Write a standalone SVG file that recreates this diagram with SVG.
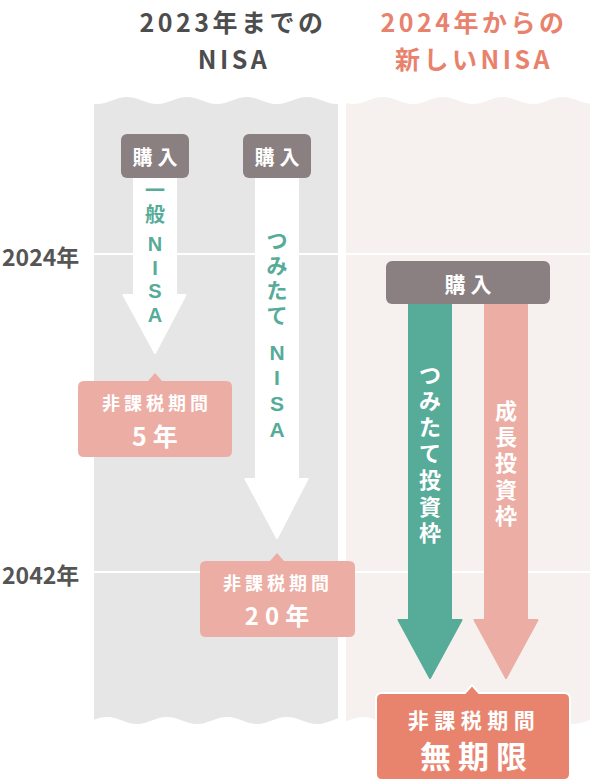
<svg xmlns="http://www.w3.org/2000/svg" width="600" height="784" viewBox="0 0 600 784">
<style>
text{font-family:"Noto Sans CJK JP","Noto Sans",sans-serif;font-weight:700}
.hdL{fill:#4D4D4D;font-size:25px;letter-spacing:3.5px;text-anchor:middle}
.hdR{fill:#E8826D;font-size:25px;letter-spacing:3.5px;text-anchor:middle}
.yr{fill:#555555;font-size:23px;dominant-baseline:central}
.grid{stroke:#FFFFFF;stroke-width:2}
.buy{fill:#8A8082}
.buyT{fill:#FFFFFF;font-size:20px;letter-spacing:5px;text-anchor:middle;dominant-baseline:central}
.wArrow{fill:#FFFFFF;stroke:#FFFFFF;stroke-width:2;stroke-linejoin:round}
.gArrow{fill:#56AB99;stroke:#56AB99;stroke-width:2;stroke-linejoin:round}
.pArrow{fill:#ECADA4;stroke:#ECADA4;stroke-width:2;stroke-linejoin:round}
.vG{font-family:"Liberation Sans","Noto Sans CJK JP",sans-serif;fill:#56AB99;font-size:20px;text-anchor:middle;dominant-baseline:central}
.vW{font-family:"Liberation Sans","Noto Sans CJK JP",sans-serif;fill:#FFFFFF;font-size:22px;text-anchor:middle;dominant-baseline:central}
.lblP{fill:#ECADA4}
.lblO{fill:#E8846E;stroke:#FFFFFF;stroke-width:2}
.lbl1{fill:#FFFFFF;font-size:18px;letter-spacing:4px;text-anchor:middle;dominant-baseline:central}
.lbl2{fill:#FFFFFF;font-size:24px;letter-spacing:6px;text-anchor:middle;dominant-baseline:central}
</style>
<defs>
<clipPath id="clipL"><rect x="94" y="0" width="244" height="784"/></clipPath>
<clipPath id="clipR"><rect x="346" y="0" width="244" height="784"/></clipPath>
<path id="wave" d="M37,104 C48,104 56,97 67,97 C78,97 86,104 97,104 C108,104 116,97 127,97 C138,97 146,104 157,104 C168,104 176,97 187,97 C198,97 206,104 217,104 C228,104 236,97 247,97 C258,97 266,104 277,104 C288,104 296,97 307,97 C318,97 326,104 337,104 C348,104 356,97 367,97 L377,724 C366,724 358,717 347,717 C336,717 328,724 317,724 C306,724 298,717 287,717 C276,717 268,724 257,724 C246,724 238,717 227,717 C216,717 208,724 197,724 C186,724 178,717 167,717 C156,717 148,724 137,724 C126,724 118,717 107,717 C96,717 88,724 77,724 L37,724 Z"/>
</defs>
<rect x="0" y="0" width="600" height="784" fill="#FFFFFF"/>

<g id="panels">
<g clip-path="url(#clipL)"><use href="#wave" fill="#E6E6E6"/></g>
<g clip-path="url(#clipR)"><use href="#wave" transform="translate(256,0)" fill="#F6F1EF"/></g>
</g>

<g id="headers">
<text class="hdL"><tspan x="233" y="32">2023年までの</tspan><tspan x="234" y="69">NISA</tspan></text>
<text class="hdR"><tspan x="474" y="32">2024年からの</tspan><tspan x="474" y="69">新しいNISA</tspan></text>
</g>

<g id="axis">
<line class="grid" x1="94" y1="254" x2="590" y2="254"/>
<line class="grid" x1="94" y1="572" x2="590" y2="572"/>
<text class="yr" x="2" y="256">2024年</text>
<text class="yr" x="2" y="574">2042年</text>
</g>

<g id="connectors">
<g id="arrow-ippan">
<rect x="133" y="177" width="44" height="119" fill="#FFFFFF"/>
<polygon class="wArrow" points="123.5,295 185.5,295 155,353"/>
<text class="vG"><tspan x="155" y="191">一</tspan><tspan x="155" y="215">般</tspan><tspan x="155" y="244">N</tspan><tspan x="155" y="268">I</tspan><tspan x="155" y="291">S</tspan><tspan x="155" y="315">A</tspan></text>
</g>
<g id="arrow-tsumitate">
<rect x="255" y="177" width="44" height="303" fill="#FFFFFF"/>
<polygon class="wArrow" points="245.5,479 307.5,479 277,538"/>
<text class="vG" style="font-size:21px"><tspan x="277" y="240">つ</tspan><tspan x="277" y="265">み</tspan><tspan x="277" y="290">た</tspan><tspan x="277" y="315">て</tspan><tspan x="277" y="352">N</tspan><tspan x="277" y="377">I</tspan><tspan x="277" y="403">S</tspan><tspan x="277" y="429">A</tspan></text>
</g>
<g id="arrow-tsumitate-waku">
<rect x="408" y="303" width="44" height="318" fill="#56AB99"/>
<polygon class="gArrow" points="398.5,620 461.5,620 430,678"/>
<text class="vW"><tspan x="430" y="375">つ</tspan><tspan x="430" y="401">み</tspan><tspan x="430" y="427">た</tspan><tspan x="430" y="453">て</tspan><tspan x="430" y="480">投</tspan><tspan x="430" y="507">資</tspan><tspan x="430" y="533">枠</tspan></text>
</g>
<g id="arrow-seicho-waku">
<rect x="484" y="303" width="44" height="318" fill="#ECADA4"/>
<polygon class="pArrow" points="474.5,620 537.5,620 506,678"/>
<text class="vW"><tspan x="506" y="411">成</tspan><tspan x="506" y="437">長</tspan><tspan x="506" y="463">投</tspan><tspan x="506" y="490">資</tspan><tspan x="506" y="516">枠</tspan></text>
</g>
</g>

<g id="buy-ippan">
<rect class="buy" x="121" y="134" width="68" height="44" rx="6"/>
<text class="buyT" x="157.5" y="156">購入</text>
</g>
<g id="buy-tsumitate">
<rect class="buy" x="243" y="134" width="68" height="44" rx="6"/>
<text class="buyT" x="279.5" y="156">購入</text>
</g>
<g id="buy-new">
<rect class="buy" x="386" y="261" width="164" height="43" rx="6"/>
<text class="buyT" x="470.5" y="283" style="font-size:21px">購入</text>
</g>

<g id="label-5">
<path class="lblP" d="M84,381 L148,381 L155,373 L162,381 L226,381 Q232,381 232,387 L232,451 Q232,457 226,457 L84,457 Q78,457 78,451 L78,387 Q78,381 84,381 Z"/>
<text class="lbl1" x="157" y="402">非課税期間</text>
<text class="lbl2" x="158" y="435" style="font-size:25px">5年</text>
</g>
<g id="label-20">
<path class="lblP" d="M206,561 L270,561 L277,553 L284,561 L349,561 Q355,561 355,567 L355,631 Q355,637 349,637 L206,637 Q200,637 200,631 L200,567 Q200,561 206,561 Z"/>
<text class="lbl1" x="278" y="582">非課税期間</text>
<text class="lbl2" x="280" y="614">20年</text>
</g>
<g id="label-unlimited">
<path class="lblO" d="M382,693 L465,693 L472,685 L479,693 L564,693 Q570,693 570,699 L570,774 Q570,780 564,780 L382,780 Q376,780 376,774 L376,699 Q376,693 382,693 Z"/>
<text class="lbl1" x="474" y="719" style="font-size:21px;letter-spacing:5.5px">非課税期間</text>
<text class="lbl2" x="477" y="754" style="font-size:31px;letter-spacing:7px">無期限</text>
</g>
</svg>
